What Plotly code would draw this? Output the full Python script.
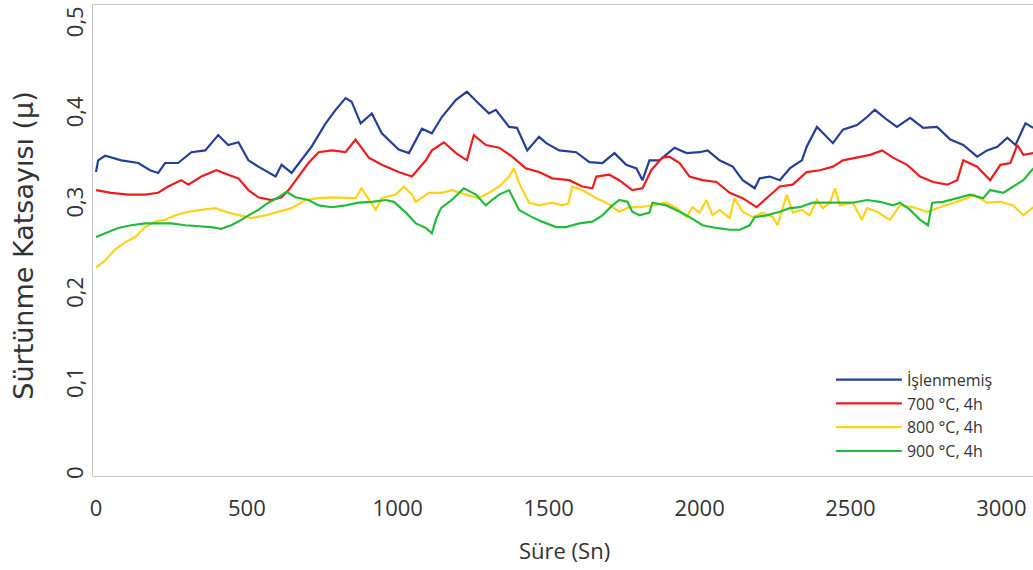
import plotly.graph_objects as go

# ---- data ----
t_islenmemis = [0, 7, 30, 84, 140, 179, 206, 229, 272, 316, 362, 405, 438, 472, 505, 538, 595, 615, 648, 681,
                714, 761, 794, 827, 847, 877, 914, 947, 1003, 1037, 1080, 1113, 1146, 1193, 1229, 1262, 1302, 1325, 1369, 1395,
                1429, 1468, 1492, 1535, 1591, 1635, 1678, 1718, 1757, 1791, 1811, 1834, 1867, 1917, 1957, 2000, 2027, 2066, 2110, 2143,
                2183, 2199, 2233, 2266, 2299, 2339, 2355, 2389, 2415, 2442, 2475, 2522, 2555, 2581, 2621, 2654, 2698, 2741, 2787, 2831,
                2874, 2920, 2953, 2987, 3020, 3047, 3080, 3106]
v_islenmemis = [0.337, 0.350, 0.355, 0.350, 0.347, 0.339, 0.336, 0.347, 0.347, 0.359, 0.361, 0.378, 0.367, 0.370, 0.350, 0.343, 0.332, 0.345, 0.336, 0.350,
                0.365, 0.391, 0.406, 0.419, 0.415, 0.391, 0.402, 0.380, 0.362, 0.358, 0.385, 0.380, 0.398, 0.417, 0.426, 0.415, 0.402, 0.406, 0.387, 0.386,
                0.361, 0.376, 0.369, 0.361, 0.359, 0.348, 0.347, 0.358, 0.345, 0.341, 0.328, 0.350, 0.350, 0.364, 0.358, 0.359, 0.361, 0.350, 0.343, 0.328,
                0.319, 0.330, 0.332, 0.328, 0.341, 0.350, 0.365, 0.387, 0.378, 0.369, 0.384, 0.389, 0.398, 0.406, 0.395, 0.387, 0.397, 0.386, 0.387, 0.373,
                0.367, 0.354, 0.361, 0.365, 0.375, 0.367, 0.391, 0.386]

t_700 = [0, 50, 106, 163, 206, 239, 282, 306, 349, 399, 438, 472, 505, 538, 581, 615, 638, 671, 704, 738,
         781, 827, 860, 904, 947, 1003, 1047, 1093, 1113, 1153, 1193, 1229, 1252, 1292, 1336, 1379, 1425, 1468, 1512, 1568,
         1611, 1645, 1658, 1701, 1734, 1777, 1811, 1840, 1877, 1900, 1934, 1967, 2010, 2056, 2100, 2143, 2189, 2222, 2266, 2309,
         2355, 2399, 2442, 2475, 2522, 2565, 2605, 2641, 2688, 2731, 2774, 2821, 2854, 2874, 2920, 2963, 2997, 3030, 3053, 3073, 3106]
v_700 = [0.317, 0.314, 0.312, 0.312, 0.314, 0.321, 0.328, 0.323, 0.332, 0.339, 0.334, 0.330, 0.317, 0.309, 0.306, 0.309, 0.317, 0.332, 0.347, 0.359,
         0.361, 0.359, 0.373, 0.353, 0.345, 0.337, 0.332, 0.350, 0.361, 0.370, 0.358, 0.350, 0.378, 0.367, 0.364, 0.354, 0.341, 0.337, 0.330, 0.328,
         0.321, 0.319, 0.332, 0.334, 0.328, 0.317, 0.319, 0.339, 0.353, 0.354, 0.347, 0.332, 0.328, 0.326, 0.314, 0.308, 0.298, 0.308, 0.321, 0.323,
         0.337, 0.339, 0.343, 0.350, 0.353, 0.356, 0.361, 0.353, 0.345, 0.332, 0.326, 0.323, 0.328, 0.350, 0.343, 0.328, 0.345, 0.347, 0.367, 0.356, 0.358]

t_800 = [0, 30, 63, 96, 130, 163, 196, 229, 262, 306, 349, 395, 438, 482, 515, 561, 605, 648, 694, 738,
         781, 827, 860, 880, 904, 927, 947, 993, 1020, 1047, 1060, 1103, 1146, 1179, 1226, 1269, 1302, 1336, 1369, 1385,
         1402, 1435, 1468, 1512, 1545, 1565, 1578, 1611, 1658, 1691, 1734, 1767, 1801, 1844, 1890, 1924, 1957, 1977, 2000, 2023,
         2043, 2066, 2100, 2116, 2143, 2176, 2209, 2243, 2259, 2289, 2309, 2339, 2365, 2389, 2409, 2432, 2449, 2465, 2508, 2538,
         2555, 2588, 2631, 2664, 2708, 2754, 2797, 2841, 2887, 2907, 2953, 2997, 3040, 3073, 3106]
v_800 = [0.231, 0.239, 0.251, 0.259, 0.265, 0.276, 0.282, 0.284, 0.289, 0.293, 0.295, 0.297, 0.292, 0.289, 0.286, 0.289, 0.293, 0.297, 0.306, 0.308,
         0.309, 0.308, 0.308, 0.319, 0.306, 0.295, 0.308, 0.312, 0.321, 0.312, 0.304, 0.314, 0.314, 0.317, 0.312, 0.308, 0.314, 0.321, 0.332, 0.341,
         0.325, 0.303, 0.300, 0.303, 0.300, 0.302, 0.321, 0.317, 0.308, 0.303, 0.293, 0.298, 0.298, 0.300, 0.303, 0.297, 0.287, 0.298, 0.292, 0.306,
         0.289, 0.295, 0.286, 0.308, 0.293, 0.287, 0.292, 0.287, 0.278, 0.312, 0.292, 0.295, 0.289, 0.306, 0.297, 0.303, 0.319, 0.300, 0.303, 0.284,
         0.297, 0.293, 0.284, 0.300, 0.298, 0.293, 0.298, 0.303, 0.308, 0.312, 0.303, 0.304, 0.300, 0.289, 0.298]

t_900 = [0, 30, 73, 116, 163, 206, 249, 296, 339, 382, 415, 448, 482, 505, 538, 571, 605, 631, 661, 704,
         738, 781, 827, 870, 914, 960, 987, 1027, 1060, 1093, 1113, 1126, 1143, 1179, 1219, 1259, 1292, 1312, 1336, 1369,
         1402, 1445, 1478, 1525, 1558, 1601, 1645, 1678, 1711, 1734, 1761, 1777, 1801, 1834, 1844, 1890, 1934, 1967, 2010, 2056,
         2100, 2133, 2166, 2183, 2222, 2266, 2299, 2332, 2375, 2422, 2465, 2508, 2555, 2598, 2641, 2664, 2698, 2731, 2757, 2771,
         2807, 2854, 2897, 2940, 2963, 3007, 3040, 3073, 3106]
v_900 = [0.265, 0.269, 0.275, 0.278, 0.280, 0.280, 0.280, 0.278, 0.277, 0.276, 0.274, 0.278, 0.284, 0.289, 0.295, 0.303, 0.309, 0.315, 0.309, 0.306,
         0.300, 0.298, 0.300, 0.303, 0.304, 0.306, 0.304, 0.292, 0.280, 0.275, 0.269, 0.284, 0.297, 0.306, 0.319, 0.312, 0.300, 0.306, 0.312, 0.317,
         0.295, 0.287, 0.282, 0.276, 0.276, 0.280, 0.282, 0.289, 0.300, 0.306, 0.304, 0.293, 0.289, 0.292, 0.303, 0.300, 0.293, 0.287, 0.278, 0.275,
         0.273, 0.273, 0.278, 0.287, 0.289, 0.293, 0.297, 0.298, 0.303, 0.303, 0.303, 0.303, 0.306, 0.304, 0.300, 0.303, 0.295, 0.284, 0.278, 0.303,
         0.304, 0.308, 0.312, 0.308, 0.317, 0.314, 0.321, 0.328, 0.341]

series_names = ["İşlenmemiş", "700 °C, 4h", "800 °C, 4h", "900 °C, 4h"]
x_ticks = [0, 500, 1000, 1500, 2000, 2500, 3000]
x_tick_labels = ["0", "500", "1000", "1500", "2000", "2500", "3000"]
y_ticks = [0, 0.1, 0.2, 0.3, 0.4, 0.5]
y_tick_labels = ["0", "0,1", "0,2", "0,3", "0,4", "0,5"]

colors = ["#233f98", "#ee1c1c", "#ffd21a", "#22bb3c"]
FONT = "Open Sans"
TXT = "#333333"

fig = go.Figure()
for name, t, v, c in zip(series_names, [t_islenmemis, t_700, t_800, t_900],
                         [v_islenmemis, v_700, v_800, v_900], colors):
    fig.add_trace(go.Scatter(x=t, y=v, mode="lines", name=name,
                             line=dict(color=c, width=2.2)))

fig.update_layout(
    width=1033, height=570,
    margin=dict(l=93, r=0, t=5, b=94),
    paper_bgcolor="white", plot_bgcolor="white",
    font=dict(family=FONT, color=TXT),
    showlegend=True,
    legend=dict(xanchor="left", yanchor="middle", x=0.785, y=0.128,
                font=dict(family=FONT, size=16, color=TXT),
                bgcolor="rgba(0,0,0,0)", itemwidth=66, borderwidth=0, tracegroupgap=0),
    xaxis=dict(range=[-10, 3105], tickmode="array", tickvals=x_ticks, ticktext=x_tick_labels,
               showgrid=False, zeroline=False, showline=True, linecolor="#c8c8c8", linewidth=1,
               mirror=True, ticks="", ticklabelstandoff=13,
               tickfont=dict(family=FONT, size=22, color=TXT)),
    yaxis=dict(range=[0, 0.5222], tickmode="array", tickvals=y_ticks, ticktext=y_tick_labels,
               showgrid=False, zeroline=False, showline=True, linecolor="#c8c8c8", linewidth=1,
               mirror=True, ticks="", tickangle=-90,
               tickfont=dict(family=FONT, size=22, color=TXT)),
    annotations=[
        dict(text="Sürtünme Katsayısı (μ)", xref="paper", yref="paper", x=-0.0734, y=0.489,
             xanchor="center", yanchor="middle", textangle=-90, showarrow=False,
             font=dict(family="DejaVu Sans", size=27, color=TXT)),
        dict(text="Süre (Sn)", xref="paper", yref="paper", x=0.502, y=-0.158,
             xanchor="center", yanchor="middle", showarrow=False,
             font=dict(family=FONT, size=22, color=TXT)),
    ],
)

fig.write_html("out.html")
